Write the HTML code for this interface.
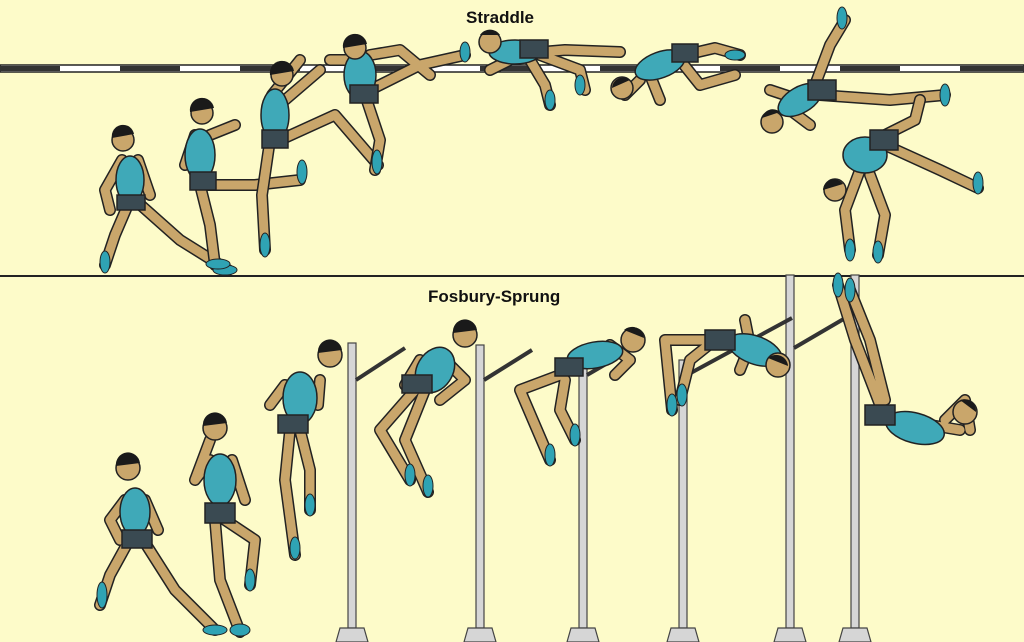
<!DOCTYPE html>
<html><head><meta charset="utf-8"><style>
html,body{margin:0;padding:0;background:#fdfbc9;}
svg{display:block}
text{font-family:"Liberation Sans",sans-serif;font-weight:bold;font-size:17px;fill:#111}
.o{fill:none;stroke:#222;stroke-width:12;stroke-linecap:round;stroke-linejoin:round}
.s{fill:none;stroke:#c9a66b;stroke-width:9;stroke-linecap:round;stroke-linejoin:round}
.b{fill:#3fa9b8;stroke:#222;stroke-width:1.5}
.sh{fill:#3a4a52;stroke:#222;stroke-width:1.5}
.h{fill:#c9a66b;stroke:#222;stroke-width:1.5}
.hr{fill:#1a1a1a}
.f{fill:#2fa3b4;stroke:#222;stroke-width:1}
.pole{fill:#d6d6d6;stroke:#444;stroke-width:1.2}
</style></head><body>
<svg width="1024" height="642" viewBox="0 0 1024 642">
<rect width="1024" height="642" fill="#fdfbc9"/>
<text x="466" y="23">Straddle</text>
<text x="428" y="302">Fosbury-Sprung</text>
<!-- straddle bar -->
<rect x="0" y="65" width="1024" height="7" fill="#fff" stroke="#222" stroke-width="1.5"/>
<g fill="#333">
<rect x="0" y="66" width="60" height="5"/><rect x="120" y="66" width="60" height="5"/><rect x="240" y="66" width="60" height="5"/><rect x="360" y="66" width="60" height="5"/><rect x="480" y="66" width="60" height="5"/><rect x="600" y="66" width="60" height="5"/><rect x="720" y="66" width="60" height="5"/><rect x="840" y="66" width="60" height="5"/><rect x="960" y="66" width="64" height="5"/>
</g>
<line x1="0" y1="276" x2="1024" y2="276" stroke="#222" stroke-width="2"/>
<!-- poles -->
<g>
<rect class="pole" x="348" y="343" width="8" height="285"/>
<rect class="pole" x="476" y="345" width="8" height="283"/>
<rect class="pole" x="579" y="365" width="8" height="263"/>
<rect class="pole" x="679" y="360" width="8" height="268"/>
<rect class="pole" x="786" y="275" width="8" height="353"/>
<rect class="pole" x="851" y="275" width="8" height="353"/>
<path class="pole" d="M336 642 L340 628 L364 628 L368 642Z"/>
<path class="pole" d="M464 642 L468 628 L492 628 L496 642Z"/>
<path class="pole" d="M567 642 L571 628 L595 628 L599 642Z"/>
<path class="pole" d="M667 642 L671 628 L695 628 L699 642Z"/>
<path class="pole" d="M774 642 L778 628 L802 628 L806 642Z"/>
<path class="pole" d="M839 642 L843 628 L867 628 L871 642Z"/>
<g stroke="#333" stroke-width="4" fill="none">
<line x1="356" y1="380" x2="405" y2="348"/>
<line x1="484" y1="380" x2="532" y2="350"/>
<line x1="587" y1="375" x2="630" y2="350"/>
<line x1="687" y1="375" x2="792" y2="318"/>
<line x1="794" y1="348" x2="859" y2="310"/>
</g>
</g>
<!-- figure macro approximated manually -->
<g id="figs">
<!-- straddle 1 -->
<path class="o" d="M130 200 L115 235 L105 265 M135 200 L180 240 L228 270 M122 160 L105 190 L110 210 M138 160 L150 195"/>
<path class="s" d="M130 200 L115 235 L105 265 M135 200 L180 240 L228 270 M122 160 L105 190 L110 210 M138 160 L150 195"/>
<ellipse class="b" cx="130" cy="180" rx="14" ry="24"/><rect class="sh" x="117" y="195" width="28" height="15"/>
<circle class="h" cx="123" cy="140" r="11"/><path class="hr" d="M112 138 a11 11 0 0 1 22 -4 z"/>
<!-- straddle 2 -->
<path class="o" d="M200 185 L210 225 L215 265 M205 185 L255 185 L300 180 M195 135 L185 165 M210 135 L235 125"/>
<path class="s" d="M200 185 L210 225 L215 265 M205 185 L255 185 L300 180 M195 135 L185 165 M210 135 L235 125"/>
<ellipse class="b" cx="200" cy="155" rx="15" ry="26"/><rect class="sh" x="190" y="172" width="26" height="18"/>
<circle class="h" cx="202" cy="113" r="11"/><path class="hr" d="M190 112 a12 12 0 0 1 24 -4 z"/>
<!-- straddle 3 -->
<path class="o" d="M270 140 L262 195 L265 250 M280 140 L335 115 L378 165 M272 95 L300 60 M285 100 L320 70"/>
<path class="s" d="M270 140 L262 195 L265 250 M280 140 L335 115 L378 165 M272 95 L300 60 M285 100 L320 70"/>
<ellipse class="b" cx="275" cy="115" rx="14" ry="26"/><rect class="sh" x="262" y="130" width="26" height="18"/>
<circle class="h" cx="282" cy="75" r="11"/><path class="hr" d="M270 75 a12 12 0 0 1 24 -4 z"/>
<!-- straddle 4 -->
<path class="o" d="M365 95 L380 140 L375 170 M370 90 L420 65 L465 55 M355 60 L330 60 M370 55 L400 50 L430 75"/>
<path class="s" d="M365 95 L380 140 L375 170 M370 90 L420 65 L465 55 M355 60 L330 60 M370 55 L400 50 L430 75"/>
<ellipse class="b" cx="360" cy="75" rx="16" ry="24"/><rect class="sh" x="350" y="85" width="28" height="18"/>
<circle class="h" cx="355" cy="48" r="11"/><path class="hr" d="M343 48 a12 12 0 0 1 24 -4 z"/>
<!-- straddle 5 -->
<path class="o" d="M530 60 L545 85 L550 105 M540 55 L580 70 L585 90 M505 55 L565 50 L620 52 M510 60 L490 70"/>
<path class="s" d="M530 60 L545 85 L550 105 M540 55 L580 70 L585 90 M505 55 L565 50 L620 52 M510 60 L490 70"/>
<ellipse class="b" cx="515" cy="52" rx="26" ry="12"/><rect class="sh" x="520" y="40" width="28" height="18"/>
<circle class="h" cx="490" cy="42" r="11"/><path class="hr" d="M480 35 a12 12 0 0 1 20 0 z"/>
<!-- straddle 6 -->
<path class="o" d="M680 60 L700 85 L735 75 M685 55 L715 48 L740 55 M650 75 L660 100 M640 80 L625 95"/>
<path class="s" d="M680 60 L700 85 L735 75 M685 55 L715 48 L740 55 M650 75 L660 100 M640 80 L625 95"/>
<ellipse class="b" cx="660" cy="65" rx="26" ry="13" transform="rotate(-20 660 65)"/><rect class="sh" x="672" y="44" width="26" height="18"/>
<circle class="h" cx="622" cy="88" r="11"/><path class="hr" d="M612 88 a11 11 0 0 1 18 -8 z"/>
<!-- straddle 7 -->
<path class="o" d="M815 85 L830 45 L845 20 M820 95 L890 100 L945 95 M790 110 L810 125 M800 100 L770 90"/>
<path class="s" d="M815 85 L830 45 L845 20 M820 95 L890 100 L945 95 M790 110 L810 125 M800 100 L770 90"/>
<ellipse class="b" cx="800" cy="100" rx="24" ry="13" transform="rotate(-30 800 100)"/><rect class="sh" x="808" y="80" width="28" height="20"/>
<circle class="h" cx="772" cy="122" r="11"/><path class="hr" d="M762 118 a11 11 0 0 1 18 -6 z"/>
<!-- straddle 8 -->
<path class="o" d="M875 140 L915 120 L920 100 M885 145 L940 170 L978 188 M860 170 L845 210 L850 250 M870 175 L885 215 L878 255"/>
<path class="s" d="M875 140 L915 120 L920 100 M885 145 L940 170 L978 188 M860 170 L845 210 L850 250 M870 175 L885 215 L878 255"/>
<ellipse class="b" cx="865" cy="155" rx="22" ry="18"/><rect class="sh" x="870" y="130" width="28" height="20"/>
<circle class="h" cx="835" cy="190" r="11"/><path class="hr" d="M823 190 a11 11 0 0 1 20 -6 z"/>
<!-- fosbury 1 -->
<path class="o" d="M132 535 L110 575 L100 605 M140 535 L175 590 L215 630 M125 500 L110 520 L120 540 M145 500 L158 530"/>
<path class="s" d="M132 535 L110 575 L100 605 M140 535 L175 590 L215 630 M125 500 L110 520 L120 540 M145 500 L158 530"/>
<ellipse class="b" cx="135" cy="512" rx="15" ry="24"/><rect class="sh" x="122" y="530" width="30" height="18"/>
<circle class="h" cx="128" cy="468" r="12"/><path class="hr" d="M116 466 a12 12 0 0 1 24 -3 z"/>
<!-- fosbury 2 -->
<path class="o" d="M215 520 L220 580 L240 632 M225 520 L255 540 L250 585 M210 460 L195 480 L210 440 M232 460 L245 500"/>
<path class="s" d="M215 520 L220 580 L240 632 M225 520 L255 540 L250 585 M210 460 L195 480 L210 440 M232 460 L245 500"/>
<ellipse class="b" cx="220" cy="480" rx="16" ry="26"/><rect class="sh" x="205" y="503" width="30" height="20"/>
<circle class="h" cx="215" cy="428" r="12"/><path class="hr" d="M203 426 a12 12 0 0 1 24 -3 z"/>
<!-- fosbury 3 -->
<path class="o" d="M290 430 L285 480 L295 555 M300 430 L310 470 L310 510 M285 385 L270 405 M320 380 L318 405"/>
<path class="s" d="M290 430 L285 480 L295 555 M300 430 L310 470 L310 510 M285 385 L270 405 M320 380 L318 405"/>
<ellipse class="b" cx="300" cy="398" rx="17" ry="26"/><rect class="sh" x="278" y="415" width="30" height="18"/>
<circle class="h" cx="330" cy="355" r="12"/><path class="hr" d="M318 353 a12 12 0 0 1 24 -3 z"/>
<!-- fosbury 4 -->
<path class="o" d="M415 390 L380 430 L410 480 M425 390 L405 440 L428 492 M445 360 L465 380 L440 400 M420 360 L405 385"/>
<path class="s" d="M415 390 L380 430 L410 480 M425 390 L405 440 L428 492 M445 360 L465 380 L440 400 M420 360 L405 385"/>
<ellipse class="b" cx="435" cy="370" rx="18" ry="24" transform="rotate(30 435 370)"/><rect class="sh" x="402" y="375" width="30" height="18"/>
<circle class="h" cx="465" cy="335" r="12"/><path class="hr" d="M453 333 a12 12 0 0 1 24 -3 z"/>
<!-- fosbury 5 -->
<path class="o" d="M560 375 L520 390 L550 460 M565 380 L560 410 L575 440 M610 345 L630 360 L615 375"/>
<path class="s" d="M560 375 L520 390 L550 460 M565 380 L560 410 L575 440 M610 345 L630 360 L615 375"/>
<ellipse class="b" cx="595" cy="355" rx="28" ry="13" transform="rotate(-10 595 355)"/><rect class="sh" x="555" y="358" width="28" height="18"/>
<circle class="h" cx="633" cy="340" r="12"/><path class="hr" d="M624 330 a12 12 0 0 1 20 8 z"/>
<!-- fosbury 6 -->
<path class="o" d="M705 340 L665 340 L672 410 M715 340 L690 360 L680 400 M745 320 L750 345 L740 370"/>
<path class="s" d="M705 340 L665 340 L672 410 M715 340 L690 360 L680 400 M745 320 L750 345 L740 370"/>
<ellipse class="b" cx="755" cy="350" rx="28" ry="14" transform="rotate(20 755 350)"/><rect class="sh" x="705" y="330" width="30" height="20"/>
<circle class="h" cx="778" cy="365" r="12"/><path class="hr" d="M768 358 a12 12 0 0 1 20 8 z"/>
<!-- fosbury 7 -->
<path class="o" d="M880 405 L855 340 L838 285 M885 400 L870 340 L850 290 M945 420 L965 400 L970 430 M930 425 L960 430"/>
<path class="s" d="M880 405 L855 340 L838 285 M885 400 L870 340 L850 290 M945 420 L965 400 L970 430 M930 425 L960 430"/>
<ellipse class="b" cx="915" cy="428" rx="30" ry="15" transform="rotate(15 915 428)"/><rect class="sh" x="865" y="405" width="30" height="20"/>
<circle class="h" cx="965" cy="412" r="12"/><path class="hr" d="M960 400 a12 12 0 0 1 16 12 z"/>
</g>
<!-- feet -->
<g>
<ellipse class="f" cx="105" cy="262" rx="5" ry="11"/><ellipse class="f" cx="225" cy="270" rx="12" ry="5"/>
<ellipse class="f" cx="218" cy="264" rx="12" ry="5"/><ellipse class="f" cx="302" cy="172" rx="5" ry="12"/>
<ellipse class="f" cx="265" cy="245" rx="5" ry="12"/><ellipse class="f" cx="377" cy="162" rx="5" ry="12"/>
<ellipse class="f" cx="465" cy="52" rx="5" ry="10"/><ellipse class="f" cx="550" cy="100" rx="5" ry="10"/>
<ellipse class="f" cx="580" cy="85" rx="5" ry="10"/><ellipse class="f" cx="735" cy="55" rx="10" ry="5"/>
<ellipse class="f" cx="842" cy="18" rx="5" ry="11"/><ellipse class="f" cx="945" cy="95" rx="5" ry="11"/>
<ellipse class="f" cx="978" cy="183" rx="5" ry="11"/><ellipse class="f" cx="850" cy="250" rx="5" ry="11"/><ellipse class="f" cx="878" cy="252" rx="5" ry="11"/>
<ellipse class="f" cx="102" cy="595" rx="5" ry="13"/><ellipse class="f" cx="215" cy="630" rx="12" ry="5"/>
<ellipse class="f" cx="240" cy="630" rx="10" ry="6"/><ellipse class="f" cx="250" cy="580" rx="5" ry="11"/>
<ellipse class="f" cx="295" cy="548" rx="5" ry="11"/><ellipse class="f" cx="310" cy="505" rx="5" ry="11"/>
<ellipse class="f" cx="410" cy="475" rx="5" ry="11"/><ellipse class="f" cx="428" cy="486" rx="5" ry="11"/>
<ellipse class="f" cx="550" cy="455" rx="5" ry="11"/><ellipse class="f" cx="575" cy="435" rx="5" ry="11"/>
<ellipse class="f" cx="672" cy="405" rx="5" ry="11"/><ellipse class="f" cx="682" cy="395" rx="5" ry="11"/>
<ellipse class="f" cx="838" cy="285" rx="5" ry="12"/><ellipse class="f" cx="850" cy="290" rx="5" ry="12"/>
</g>
</svg>
</body></html>
